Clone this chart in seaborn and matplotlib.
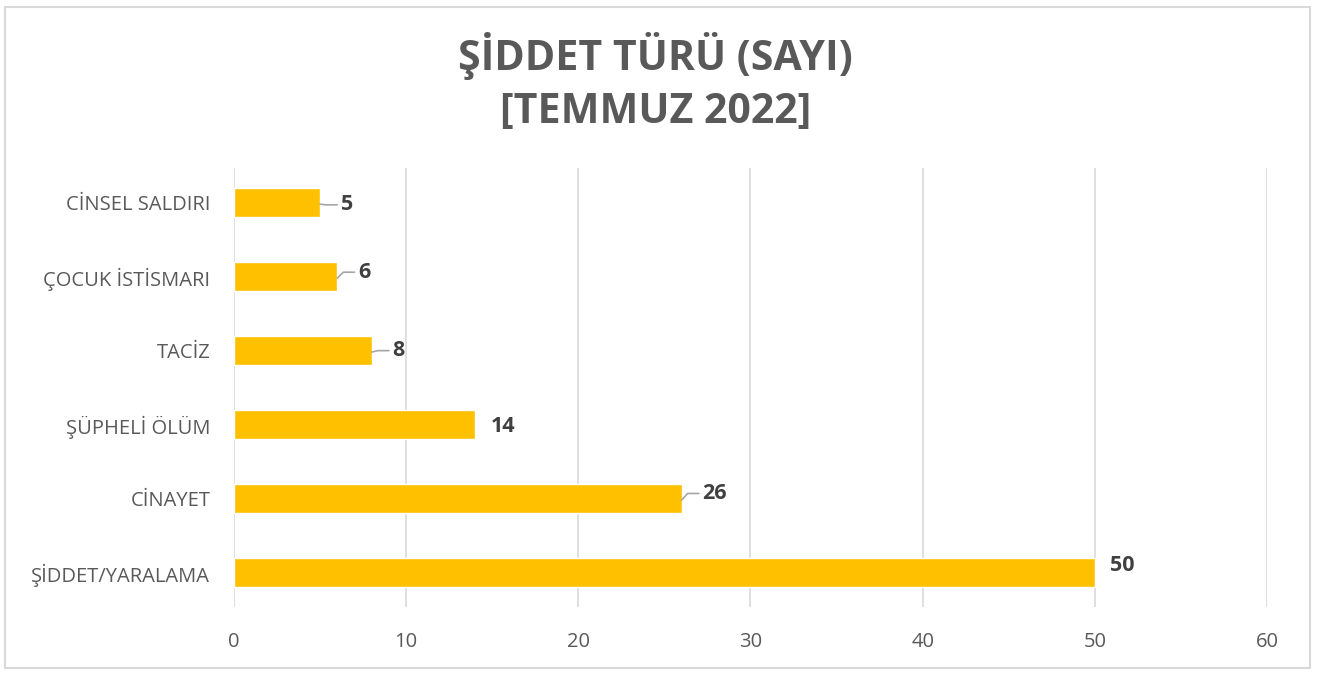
import matplotlib
matplotlib.use("Agg")
import matplotlib.pyplot as plt
import seaborn as sns
import pandas as pd
from matplotlib.patches import Rectangle

categories = ["CİNSEL SALDIRI", "ÇOCUK İSTİSMARI", "TACİZ", "ŞÜPHELİ ÖLÜM", "CİNAYET", "ŞİDDET/YARALAMA"]
values = [5, 6, 8, 14, 26, 50]
xticks = [0, 10, 20, 30, 40, 50, 60]
title = "ŞİDDET TÜRÜ (SAYI)\n[TEMMUZ 2022]"

sns.set_theme(style="white")
plt.rcParams['font.family'] = ['Open Sans', 'DejaVu Sans']

df = pd.DataFrame({"cat": categories, "val": values})

fig = plt.figure(figsize=(13.33, 6.75), dpi=100)
ax = fig.add_axes([0.1755, 0.1007, 0.775, 0.650])

sns.barplot(data=df, y="cat", x="val", color="#FFC000", saturation=1, width=0.39, ax=ax, orient="h")

ax.set_xlim(0, 60)
ax.set_xticks(xticks)
ax.set_xticklabels([str(t) for t in xticks], fontsize=14.5, color="#595959")
ax.set_xlabel("")
ax.set_ylabel("")
ax.tick_params(axis="y", labelsize=14.5, labelcolor="#595959", length=0, pad=17)
ax.tick_params(axis="x", length=0, pad=18)
ax.grid(axis="x", color="#D9D9D9", linewidth=1.2)
ax.set_axisbelow(True)
for s in ax.spines.values():
    s.set_visible(False)

# data labels with small leader lines
leader = {5: True, 6: True, 8: True, 14: False, 26: True, 50: False}
dy = {5: 0.03, 6: -0.06, 8: 0.0, 14: 0.03, 26: -0.07, 50: -0.1}
for i, v in enumerate(values):
    gap = 1.2 if leader[v] else 0.9
    lx = v + gap
    ly = i + dy[v]
    ax.text(lx, ly, str(v), va="center", ha="left", fontsize=15.5, fontweight="bold", color="#404040")
    if leader[v]:
        ax.plot([v, v + 0.35, v + 1.0], [i + 0.02, ly, ly], color="#A6A6A6", linewidth=1.2)

fig.suptitle(title, x=0.492, y=0.953, fontsize=29.6, fontweight="bold", color="#595959", linespacing=1.4, va="top")

fig.patches.append(Rectangle((5 / 1333, 7 / 675), 1305 / 1333, 661 / 675, transform=fig.transFigure,
                             fill=False, edgecolor="#D9D9D9", linewidth=1.5))

fig.savefig("out.png", dpi=100)
